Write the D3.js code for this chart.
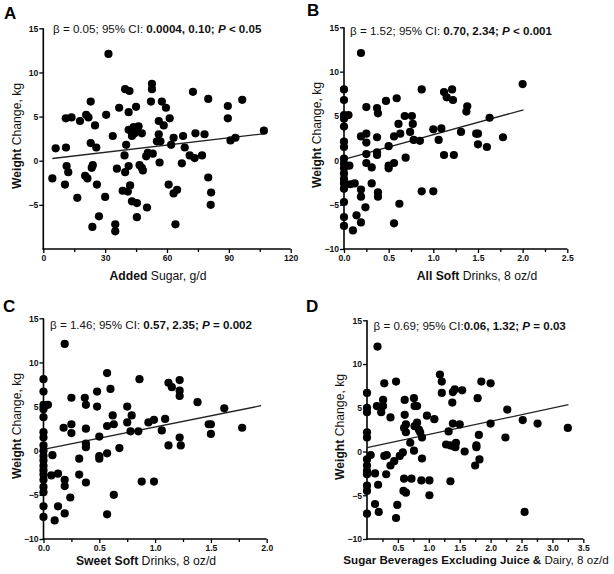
<!DOCTYPE html>
<html><head><meta charset="utf-8">
<script src="https://cdn.jsdelivr.net/npm/d3@7"></script>
<style>body{margin:0;background:#fff}svg{display:block}</style>
</head><body>
<svg id="c" width="614" height="574"></svg>
<script>
// ---------- data ----------
const yTicksA = [-5, 0, 5, 10, 15];
const yTicksBCD = [-10, -5, 0, 5, 10, 15];
const xTicksA = [0, 30, 60, 90, 120];
const xTicksB = [0, 0.5, 1.0, 1.5, 2.0, 2.5];
const xTicksC = [0, 0.5, 1.0, 1.5, 2.0];
const xTicksD = [0.5, 1.0, 1.5, 2.0, 2.5, 3.0, 3.5];

const addedSugarPts = [
 [31.6,12.1],[4.4,-2.0],[6,1.4],[11,1.5],[10.9,4.8],[13.7,4.9],[17.8,4.5],[11.3,-0.6],[12.1,-1.3],[10.5,-2.7],
 [16.5,-4.2],[20.3,-1.7],[21.4,-2.0],[20.8,5.2],[21.9,4.9],[23,6.7],[25.1,4.0],[23,2.0],[25.7,1.5],[24,-0.5],
 [23.5,-0.8],[26,-2.7],[23.8,-7.5],[27,-6.3],[30,-4.1],[30.5,5.2],[33.7,2.8],[36.8,6.0],[35.7,-0.9],[34.9,-7.2],
 [34.9,-8.0],[39.7,8.1],[41.8,7.9],[41.4,5.5],[45,6.1],[39.4,0.6],[40.2,1.8],[41.4,3.5],[43,2.8],[43.8,3.8],
 [45.4,3.5],[46.2,3.9],[47.8,3.1],[44.3,3.1],[41.4,-0.6],[39.7,-1.3],[38.5,-3.4],[41,-3.5],[42.1,-2.8],[43,-4.6],
 [45.4,-4.8],[45.4,-6.4],[46.7,-0.5],[47.8,-0.8],[48.3,-1.1],[50.3,-5.3],[49.9,0.5],[50.7,0.9],[53.1,0.8],[52.7,8.7],
 [52.7,8.1],[52.2,6.7],[57.5,6.7],[59.5,6.0],[61.3,4.8],[56,4.5],[58.4,4.0],[56,3.0],[56.8,2.2],[55.1,2.2],
 [56.4,-0.2],[60.8,-2.7],[63.2,-3.7],[64.9,-3.3],[64.1,-7.2],[63.2,2.6],[62,1.8],[67.8,2.8],[68.6,1.5],[67.2,-0.3],
 [72.6,7.8],[73.8,3.1],[71,0.6],[73.4,0.3],[77,0.6],[78.2,3.0],[80,7.0],[80,-1.9],[81.4,-3.6],[81.2,-5.0],
 [89.5,6.2],[89.5,4.8],[90.8,2.3],[93.2,2.6],[96.5,6.9],[107,3.4]
];
const allSoftPts = [
 [0,8.0],[0,6.8],[0,5.1],[0,4.7],[0,3.8],[0,2.1],[0,1.5],[0,0.2],[0,-0.4],[0,-0.9],[0,-1.5],[0,-2.1],[0,-2.6],
 [0,-3.2],[0,-4.7],[0,-6.4],[0,-7.4],[0.05,5.1],
 [0.19,12.1],[0.06,-0.6],[0.07,-2.7],[0.12,-2.6],[0.14,-6.2],[0.1,-7.9],[0.19,-7.0],[0.19,-3.3],[0.19,-4.1],[0.24,-5.3],
 [0.19,2.7],[0.25,3.0],[0.25,2.0],[0.25,6.0],[0.25,0.7],[0.25,-0.3],[0.31,-0.8],[0.31,-2.6],[0.37,5.9],[0.38,5.3],
 [0.37,2.6],[0.37,0.6],[0.37,0.9],[0.38,-3.6],[0.38,-4.1],[0.47,6.7],[0.5,1.6],[0.5,-0.6],[0.5,-0.9],[0.56,-0.3],
 [0.56,-7.1],[0.56,2.7],[0.59,7.0],[0.61,4.1],[0.63,3.0],[0.62,-4.9],[0.69,0.3],[0.68,5.0],[0.76,5.0],[0.77,4.1],
 [0.74,3.2],[0.78,2.3],[0.85,2.2],[0.87,8.0],[0.87,-3.5],[1.0,3.5],[1.0,-3.5],[1.06,2.3],[1.09,3.6],[1.12,7.7],
 [1.12,0.6],[1.15,7.1],[1.21,8.0],[1.22,6.8],[1.23,0.6],[1.31,3.2],[1.38,6.1],[1.37,5.5],[1.48,3.0],[1.5,3.0],
 [1.5,1.8],[1.6,1.5],[1.63,4.8],[1.78,2.6],[2.0,8.6]
];
const sweetSoftPts = [
 [0,8.1],[0,6.7],[0,5.2],[0,4.7],[0,3.8],[0,2.1],[0,1.5],[0,0.6],[0,0],[0,-0.6],[0,-1.1],[0,-1.7],[0,-2.2],
 [0,-2.7],[0,-3.3],[0,-4.1],[0,-4.7],[0,-6.3],[0,-7.5],[0.04,5.2],
 [0.19,12.1],[0.08,-0.5],[0.07,-2.8],[0.13,-2.6],[0.13,-6.3],[0.1,-7.9],[0.19,-3.3],[0.19,-4.0],[0.19,-7.1],[0.24,-5.3],
 [0.18,2.6],[0.25,3.0],[0.25,2.0],[0.25,6.0],[0.32,-0.9],[0.32,-2.7],[0.37,6.0],[0.38,5.2],[0.38,2.5],[0.38,0.8],
 [0.38,0.4],[0.38,-3.6],[0.48,6.7],[0.48,5.0],[0.5,1.6],[0.5,-0.6],[0.5,-0.9],[0.57,-0.3],[0.57,2.8],[0.57,8.8],
 [0.57,-7.2],[0.6,7.0],[0.62,4.0],[0.63,3.0],[0.63,-5.0],[0.68,0.3],[0.75,5.0],[0.75,3.2],[0.79,4.0],[0.78,2.2],
 [0.85,2.2],[0.86,8.1],[0.88,-3.5],[0.94,3.2],[0.99,3.5],[0.99,-3.5],[1.06,2.3],[1.09,3.6],[1.12,7.7],[1.12,0.6],
 [1.15,7.2],[1.22,8.0],[1.22,6.8],[1.22,6.2],[1.22,1.5],[1.23,0.6],[1.38,5.5],[1.48,3.0],[1.5,3.0],[1.5,1.9],
 [1.62,4.8],[1.78,2.6]
];
const sugarBevPts = [
 [0,6.7],[0,5.0],[0,4.5],[0,2.2],[0,1.6],[0,-0.9],[0,-1.6],[0,-2.2],[0,-2.6],[0,-3.9],[0,-4.5],[0,-7.1],
 [0.17,12.0],[0.06,-0.4],[0.13,-2.5],[0.13,-6.0],[0.18,-3.8],[0.19,-6.9],[0.16,5.2],[0.26,5.2],[0.26,5.9],[0.23,4.5],
 [0.28,7.8],[0.28,-0.5],[0.31,-2.6],[0.32,-0.4],[0.38,3.9],[0.38,-1.6],[0.44,-1.1],[0.47,8.0],[0.49,-6.1],[0.47,-7.6],
 [0.53,-0.5],[0.58,-0.1],[0.59,-4.5],[0.63,-4.7],[0.6,-3.1],[0.61,5.9],[0.61,4.2],[0.63,3.1],[0.6,2.7],[0.63,2.2],
 [0.7,1.0],[0.72,-3.1],[0.76,6.1],[0.77,5.2],[0.81,5.2],[0.77,2.9],[0.76,0.1],[0.81,3.3],[0.84,2.5],[0.86,2.2],
 [0.89,1.6],[0.89,-0.8],[0.88,-3.3],[0.97,4.1],[1.01,-3.3],[1.01,-5.0],[1.09,3.7],[1.18,8.8],[1.21,8.0],[1.21,6.7],
 [1.32,2.3],[1.28,0.8],[1.35,0.7],[1.35,-3.4],[1.38,5.6],[1.39,6.8],[1.42,7.1],[1.39,3.2],[1.4,0.6],[1.44,1.0],
 [1.43,0.5],[1.5,3.1],[1.54,7.0],[1.58,0],[1.75,-1.6],[1.77,0.7],[1.77,0.5],[1.79,6.1],[1.81,1.9],[1.82,-0.9],
 [1.85,8.0],[2.0,7.8],[2.0,3.2],[2.24,1.6],[2.27,4.8],[2.52,3.6],[2.55,-6.9],[2.76,3.2],[3.25,2.7]
];
const trendA = [[4.4,0.25],[107,3.05]];
const trendB = [[0,0.1],[2.01,5.7]];
const trendC = [[0,0.15],[1.95,5.1]];
const trendD = [[0,0.45],[3.26,5.35]];

const statsA = [["β = 0.05; 95% CI: ", "n"], ["0.0004, 0.10; ", "b"], ["P", "bi"], [" < 0.05", "b"]];
const statsB = [["β = 1.52; 95% CI: ", "n"], ["0.70, 2.34; ", "b"], ["P", "bi"], [" < 0.001", "b"]];
const statsC = [["β = 1.46; 95% CI: ", "n"], ["0.57, 2.35; ", "b"], ["P", "bi"], [" = 0.002", "b"]];
const statsD = [["β = 0.69; 95% CI:", "n"], ["0.06, 1.32; ", "b"], ["P", "bi"], [" = 0.03", "b"]];

const xLabelA = [["Added", "b"], [" Sugar, g/d", "n"]];
const xLabelB = [["All Soft", "b"], [" Drinks, 8 oz/d", "n"]];
const xLabelC = [["Sweet Soft", "b"], [" Drinks, 8 oz/d", "n"]];
const xLabelD = [["Sugar Beverages Excluding Juice &", "b"], [" Dairy, 8 oz/d", "n"]];
const yLabel = [["Weight", "b"], [" Change, kg", "n"]];

// ---------- drawing ----------
const FONT = "'Liberation Sans', Arial, Helvetica, sans-serif";
const svg = d3.select("#c").style("font-family", FONT);

function richText(g, parts, attrs) {
  const t = g.append("text");
  Object.entries(attrs).forEach(([k, v]) => t.attr(k, v));
  parts.forEach(([s, st]) => {
    t.append("tspan").text(s)
      .attr("font-weight", st.includes("b") ? "bold" : "normal")
      .attr("font-style", st.includes("i") ? "italic" : "normal");
  });
  return t;
}

const panels = [
  {letter: "A", lx: 4, ly: 19, pts: addedSugarPts, trend: trendA, xd: [0, 120], xt: xTicksA, xminor: [15, 45, 75, 105],
   fmt: d3.format("d"), yt: yTicksA, L: 43.3, R: 290.7, T: 28.3, B: 249,
   stats: statsA, sx: 53, sy: 33, xl: xLabelA, xlx: 158, xly: 280, xls: 12.2, ylx: 21, yly: 136},
  {letter: "B", lx: 307, ly: 16, pts: allSoftPts, trend: trendB, xd: [0, 2.5], xt: xTicksB, xminor: [0.25, 0.75, 1.25, 1.75, 2.25],
   fmt: d3.format(".1f"), yt: yTicksBCD, L: 344, R: 567.3, T: 27.3, B: 249,
   stats: statsB, sx: 350, sy: 35, xl: xLabelB, xlx: 477, xly: 280, xls: 12.2, ylx: 321, yly: 135},
  {letter: "C", lx: 3, ly: 312, pts: sweetSoftPts, trend: trendC, xd: [0, 2.0], xt: xTicksC, xminor: [0.25, 0.75, 1.25, 1.75],
   fmt: d3.format(".1f"), yt: yTicksBCD, L: 43.5, R: 266.7, T: 318.3, B: 539,
   stats: statsC, sx: 50, sy: 329, xl: xLabelC, xlx: 146, xly: 565, xls: 12.2, ylx: 21, yly: 426},
  {letter: "D", lx: 306, ly: 312, pts: sugarBevPts, trend: trendD, xd: [0, 3.5], xt: xTicksD, xminor: [0.25, 0.75, 1.25, 1.75, 2.25, 2.75, 3.25],
   fmt: d3.format(".1f"), yt: yTicksBCD, L: 367, R: 583.3, T: 320.3, B: 539,
   stats: statsD, sx: 373.5, sy: 330, xl: xLabelD, xlx: 476, xly: 564, xls: 11.6, ylx: 344, yly: 427}
];

panels.forEach(p => {
  const g = svg.append("g");
  const x = d3.scaleLinear().domain(p.xd).range([p.L, p.R]);
  const y = d3.scaleLinear().domain([-10, 15]).range([p.B, p.T]);

  // minor x ticks
  const gm = g.append("g").attr("transform", `translate(0,${p.B})`)
    .call(d3.axisBottom(x).tickValues(p.xminor).tickSize(3).tickSizeOuter(0).tickFormat(""));
  gm.select(".domain").remove();
  gm.selectAll("line").attr("stroke", "#000").attr("stroke-width", 1.3);

  const gx = g.append("g").attr("transform", `translate(0,${p.B})`)
    .call(d3.axisBottom(x).tickValues(p.xt).tickSize(4).tickSizeOuter(0).tickPadding(2).tickFormat(p.fmt));
  const gy = g.append("g").attr("transform", `translate(${p.L},0)`)
    .call(d3.axisLeft(y).tickValues(p.yt).tickSize(4).tickSizeOuter(0).tickPadding(1).tickFormat(d3.format("d")));
  [gx, gy].forEach(a => {
    a.select(".domain").attr("stroke", "#000").attr("stroke-width", 1.6);
    a.selectAll(".tick line").attr("stroke", "#000").attr("stroke-width", 1.3);
    a.selectAll(".tick text").attr("font-family", FONT).attr("font-size", 8.6)
      .attr("font-weight", "bold").attr("fill", "#111");
  });
  gx.select(".domain").attr("d", `M${p.L - 0.8},0H${p.R}`);
  gy.select(".domain").attr("d", `M0,${p.T}V${p.B + 0.8}`);

  // trend line
  g.append("path").datum(p.trend)
    .attr("d", d3.line().x(d => x(d[0])).y(d => y(d[1])))
    .attr("stroke", "#222").attr("stroke-width", 1.3).attr("fill", "none");

  // points
  g.selectAll("circle.pt").data(p.pts).join("circle").attr("class", "pt")
    .attr("cx", d => x(d[0])).attr("cy", d => y(d[1])).attr("r", 4.1).attr("fill", "#000");

  // panel letter
  g.append("text").text(p.letter).attr("x", p.lx).attr("y", p.ly)
    .attr("font-size", 17).attr("font-weight", "bold").attr("fill", "#000");

  // stats annotation
  richText(g, p.stats, {x: p.sx, y: p.sy, "font-size": 11.6, fill: "#111"});

  // x label
  richText(g, p.xl, {x: p.xlx, y: p.xly, "font-size": p.xls, "text-anchor": "middle", fill: "#111"});
  // y label
  richText(g, yLabel, {transform: `translate(${p.ylx},${p.yly}) rotate(-90)`, "font-size": 12.2,
    "text-anchor": "middle", fill: "#111"});
});
</script>
</body></html>
